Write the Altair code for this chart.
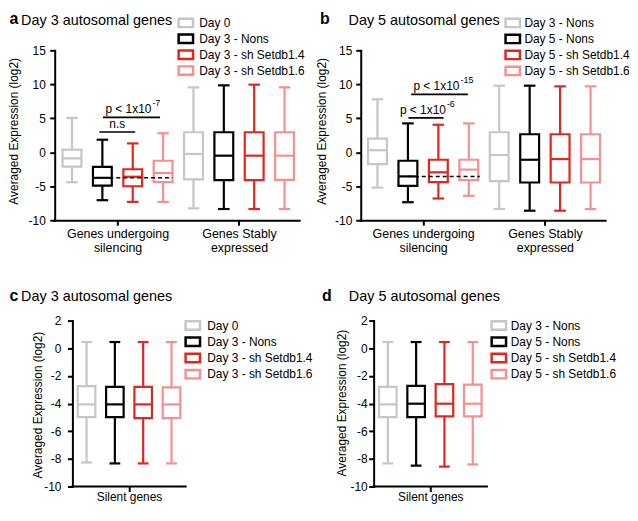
import altair as alt
import pandas as pd

FONT = "Liberation Sans"
COLORS = ["#c6c6c6", "#000000", "#e3261c", "#f98e8e"]

GROUPS_AB = [["Genes undergoing", "silencing"], ["Genes Stably", "expressed"]]
GROUPS_CD = [["Silent genes"]]
COND_AC = ["Day 0", "Day 3 - Nons", "Day 3 - sh Setdb1.4", "Day 3 - sh Setdb1.6"]
COND_BD = ["Day 3 - Nons", "Day 5 - Nons", "Day 5 - sh Setdb1.4", "Day 5 - sh Setdb1.6"]
YTICKS_AB = [-10, -5, 0, 5, 10, 15]
YTICKS_CD = [-10, -8, -6, -4, -2, 0, 2]
YTITLE = "Averaged Expression (log2)"

# five-number summaries, group 1 conditions then group 2 conditions
A_LOW = [-4.4, -7.05, -7.3, -7.3, -8.25, -8.35, -8.35, -8.35]
A_Q1 = [-2.1, -4.9, -5.0, -4.4, -4.0, -4.1, -4.1, -4.05]
A_MED = [-0.9, -3.76, -3.6, -3.05, -0.25, -0.5, -0.5, -0.5]
A_Q3 = [0.4, -2.15, -2.5, -1.25, 2.95, 2.95, 2.95, 2.95]
A_HIGH = [5.05, 1.85, 1.3, 2.8, 9.55, 9.85, 9.95, 9.55]

B_LOW = [-5.2, -7.35, -6.8, -6.4, -8.35, -8.6, -8.6, -8.35]
B_Q1 = [-1.75, -4.95, -4.4, -4.1, -4.25, -4.45, -4.45, -4.45]
B_MED = [0.3, -3.55, -2.95, -2.55, -0.4, -1.1, -1.0, -1.0]
B_Q3 = [2.0, -1.25, -1.1, -1.1, 2.95, 2.65, 2.65, 2.65]
B_HIGH = [7.8, 4.25, 4.05, 4.25, 9.8, 9.8, 9.7, 9.7]

C_LOW = [-8.26, -8.33, -8.33, -8.33]
C_Q1 = [-4.98, -4.98, -5.05, -5.05]
C_MED = [-4.06, -4.06, -4.06, -4.06]
C_Q3 = [-2.74, -2.79, -2.79, -2.83]
C_HIGH = [0.45, 0.45, 0.45, 0.45]

D_LOW = [-8.33, -8.49, -8.56, -8.4]
D_Q1 = [-4.98, -4.98, -4.93, -4.93]
D_MED = [-4.06, -4.01, -4.01, -4.01]
D_Q3 = [-2.79, -2.72, -2.6, -2.63]
D_HIGH = [0.45, 0.45, 0.45, 0.45]

# significance brackets (x in box-position units)
A_BAR_X1 = [0.9, 1.02]
A_BAR_X2 = [2.08, 2.9]
A_BAR_Y = [2.98, 5.14]
A_BAR_TXT = ["n.s", "p < 1x10"]
A_BAR_EXP = ["", "-7"]
B_BAR_X1 = [1.02, 1.11]
B_BAR_X2 = [2.17, 2.97]
B_BAR_Y = [5.06, 8.52]
B_BAR_TXT = ["p < 1x10", "p < 1x10"]
B_BAR_EXP = ["-6", "-15"]
A_DASH = {"x1": [1.0], "x2": [3.3], "y": [-3.76]}
B_DASH = {"x1": [1.0], "x2": [3.36], "y": [-3.55]}

SW = 2.2
BOX_HALF = 0.31
CAP_HALF = 0.19


def label_expr(centers, groups):
    expr = "''"
    for c, lines in reversed(list(zip(centers, groups))):
        arr = "[" + ",".join("'" + s + "'" for s in lines) + "]"
        expr = f"datum.value == {c} ? {arr} : {expr}"
    return expr


def one_text(txt, x, y, **kw):
    return alt.Chart(pd.DataFrame({"t": [txt]})).mark_text(
        font=FONT, color="black", **kw).encode(x=alt.value(x), y=alt.value(y), text="t:N")


def panel(conds, groups, low, q1, med, q3, high, ydom, yticks, lay, letter, title,
          bars=None, dash=None):
    n = len(conds)
    rows = []
    for gi in range(len(groups)):
        for ci, c in enumerate(conds):
            k = gi * n + ci
            rows.append({"cond": c, "pos": k, "low": low[k], "q1": q1[k], "med": med[k],
                         "q3": q3[k], "high": high[k]})
    df = pd.DataFrame(rows)
    npos = len(rows)
    centers = [gi * n + (n - 1) / 2 for gi in range(len(groups))]
    shift = lay["shift"]
    step = lay["w"] / (npos - 1 + lay["xl"] + lay["xr"])
    x_lo = -lay["xl"]
    x_hi = npos - 1 + lay["xr"]
    xscale = alt.Scale(domain=[x_lo - shift / step, x_hi], nice=False, zero=False)
    xaxis = alt.Axis(values=centers, labelExpr=label_expr(centers, groups), title=None,
                     labelAngle=0, labelLineHeight=14, labelPadding=lay["xlpad"],
                     labelFontSize=lay["xlfs"], domain=(shift == 0), zindex=1)
    yscale = alt.Scale(domain=ydom, nice=False, zero=False)
    yaxis = alt.Axis(values=yticks, labelExpr="'' + datum.value", title=None,
                     labelPadding=lay["lpad"], offset=-shift, zindex=1)

    def X(f):
        return alt.X(f, type="quantitative", scale=xscale, axis=xaxis)

    def Y(f):
        return alt.Y(f, type="quantitative", scale=yscale, axis=yaxis)

    S = alt.Stroke("cond:N", scale=alt.Scale(domain=conds, range=COLORS), legend=None)

    base = alt.Chart(df).transform_calculate(
        xa=f"datum.pos - {BOX_HALF}", xb=f"datum.pos + {BOX_HALF}",
        ca=f"datum.pos - {CAP_HALF}", cb=f"datum.pos + {CAP_HALF}")
    # invisible frame fixing the panel's extent in the grid
    frame = alt.Chart(pd.DataFrame({"f": [0]})).mark_rect(
        fill="white", opacity=0, strokeWidth=0).encode(
        x=alt.value(lay["fx"][0]), x2=alt.value(lay["fx"][1]),
        y=alt.value(lay["fy"][0]), y2=alt.value(lay["fy"][1]))
    whisk = base.mark_rule(strokeWidth=SW).encode(x=X("pos"), y=Y("low"), y2="high", stroke=S)
    cap_lo = base.mark_rule(strokeWidth=SW).encode(x=X("ca"), x2="cb", y=Y("low"), stroke=S)
    cap_hi = base.mark_rule(strokeWidth=SW).encode(x=X("ca"), x2="cb", y=Y("high"), stroke=S)
    box = base.mark_rect(fill="white", fillOpacity=1, strokeWidth=SW).encode(
        x=X("xa"), x2="xb", y=Y("q1"), y2="q3", stroke=S)
    medl = base.mark_rule(strokeWidth=SW).encode(x=X("xa"), x2="xb", y=Y("med"), stroke=S)
    layers = [frame, whisk, cap_lo, cap_hi, box, medl]

    if shift:
        # x-axis line starting at the (shifted) y-axis
        layers.append(alt.Chart(pd.DataFrame({"x1": [x_lo], "x2": [x_hi], "y": [ydom[0]]}))
                      .mark_rule(strokeWidth=2, color="black", strokeCap="square")
                      .encode(x=X("x1"), x2="x2", y=Y("y")))
    if dash is not None:
        layers.append(alt.Chart(pd.DataFrame(dash)).mark_rule(
            strokeDash=[4, 3], strokeWidth=1.5, color="black").encode(
            x=X("x1"), x2="x2", y=Y("y")))
    if bars is not None:
        bdf = pd.DataFrame({"x1": bars[0], "x2": bars[1], "y": bars[2],
                            "txt": bars[3], "exp": bars[4]})
        bb = alt.Chart(bdf).transform_calculate(xc="(datum.x1 + datum.x2) / 2")
        layers.append(bb.mark_rule(strokeWidth=1.6, color="black").encode(
            x=X("x1"), x2="x2", y=Y("y")))
        layers.append(bb.transform_filter("datum.exp == ''").mark_text(
            font=FONT, fontSize=12, align="center", baseline="alphabetic", dy=-4,
            color="black").encode(x=X("xc"), y=Y("y"), text="txt:N"))
        layers.append(bb.transform_filter("datum.exp != ''").mark_text(
            font=FONT, fontSize=12, align="right", baseline="alphabetic", dx=20, dy=-4,
            color="black").encode(x=X("xc"), y=Y("y"), text="txt:N"))
        layers.append(bb.transform_filter("datum.exp != ''").mark_text(
            font=FONT, fontSize=9, align="left", baseline="alphabetic", dx=21, dy=-11,
            color="black").encode(x=X("xc"), y=Y("y"), text="exp:N"))

    # legend: outlined swatches + labels
    lx, ly0, lstep, tx = lay["leg"]
    for i, (c, col) in enumerate(zip(conds, COLORS)):
        yy = ly0 + i * lstep
        layers.append(alt.Chart(pd.DataFrame({"c": [c]})).mark_rect(
            fill="white", stroke=col, strokeWidth=2.5).encode(
            x=alt.value(lx - 7.25), x2=alt.value(lx + 7.25),
            y=alt.value(yy - 4.25), y2=alt.value(yy + 4.25)))
        layers.append(one_text(c, tx, yy, fontSize=12, align="left", baseline="middle"))

    layers.append(one_text(letter, lay["let"][0], lay["let"][1], fontSize=16,
                           fontWeight="bold", align="left", baseline="alphabetic"))
    layers.append(one_text(title, lay["tit"][0], lay["tit"][1], fontSize=14.5,
                           align="left", baseline="alphabetic"))
    layers.append(one_text(YTITLE, lay["yt"][0], lay["yt"][1], fontSize=12, angle=270,
                           align="center", baseline="middle"))

    return alt.layer(*layers).properties(width=lay["w"] + shift, height=lay["h"])


# pixel layout of each panel, relative to its plot area's top-left corner
LAY_A = dict(w=246, h=171, xl=0.57, xr=0.48, shift=0, lpad=4.5, xlpad=2, xlfs=12.5,
             leg=(132, -27.6, 16, 145.5), let=(-45.5, -26), tit=(-33.8, -25.6),
             yt=(-40.5, 81.5), fx=(-46.5, 261.5), fy=(-40.3, 221.7))
LAY_B = dict(w=246, h=171, xl=0.55, xr=0.48, shift=0, lpad=4, xlpad=2, xlfs=12.5,
             leg=(153, -27.6, 16.1, 164.7), let=(-41, -26), tit=(-12.3, -25.6),
             yt=(-38.5, 81.5), fx=(-46, 270), fy=(-40.3, 221.7))
LAY_C = dict(w=114, h=167, xl=0.5, xr=0.5, shift=17.8, lpad=6.5, xlpad=0, xlfs=12,
             leg=(139, 5, 16.3, 153.5), let=(-45.5, -20), tit=(-33.8, -19.3),
             yt=(-17, 85), fx=(-46.5, 261.5), fy=(-50, 185))
LAY_D = dict(w=114, h=167, xl=0.5, xr=0.5, shift=13, lpad=1.5, xlpad=0, xlfs=12,
             leg=(139, 5, 16.3, 151), let=(-39, -20), tit=(-12, -19.3),
             yt=(-19, 83), fx=(-46, 270), fy=(-50, 185))

pa = panel(COND_AC, GROUPS_AB, A_LOW, A_Q1, A_MED, A_Q3, A_HIGH, [-10, 15], YTICKS_AB,
           LAY_A, "a", "Day 3 autosomal genes",
           bars=(A_BAR_X1, A_BAR_X2, A_BAR_Y, A_BAR_TXT, A_BAR_EXP), dash=A_DASH)
pb = panel(COND_BD, GROUPS_AB, B_LOW, B_Q1, B_MED, B_Q3, B_HIGH, [-10, 15], YTICKS_AB,
           LAY_B, "b", "Day 5 autosomal genes",
           bars=(B_BAR_X1, B_BAR_X2, B_BAR_Y, B_BAR_TXT, B_BAR_EXP), dash=B_DASH)
pc = panel(COND_AC, GROUPS_CD, C_LOW, C_Q1, C_MED, C_Q3, C_HIGH, [-10, 2], YTICKS_CD,
           LAY_C, "c", "Day 3 autosomal genes")
pd_ = panel(COND_BD, GROUPS_CD, D_LOW, D_Q1, D_MED, D_Q3, D_HIGH, [-10, 2], YTICKS_CD,
            LAY_D, "d", "Day 5 autosomal genes")

chart = alt.concat(pa, pb, pc, pd_, columns=2, spacing=0, align="none").resolve_scale(
    stroke="independent"
).properties(padding=0, background="white").configure_view(stroke=None).configure_axis(
    domainColor="black", domainWidth=2, domainCap="square", tickColor="black", tickWidth=2,
    tickSize=5, labelFont=FONT, labelFontSize=12, labelColor="black", grid=False
)

chart.save("out.html", embed_options={"renderer": "svg", "actions": False})
